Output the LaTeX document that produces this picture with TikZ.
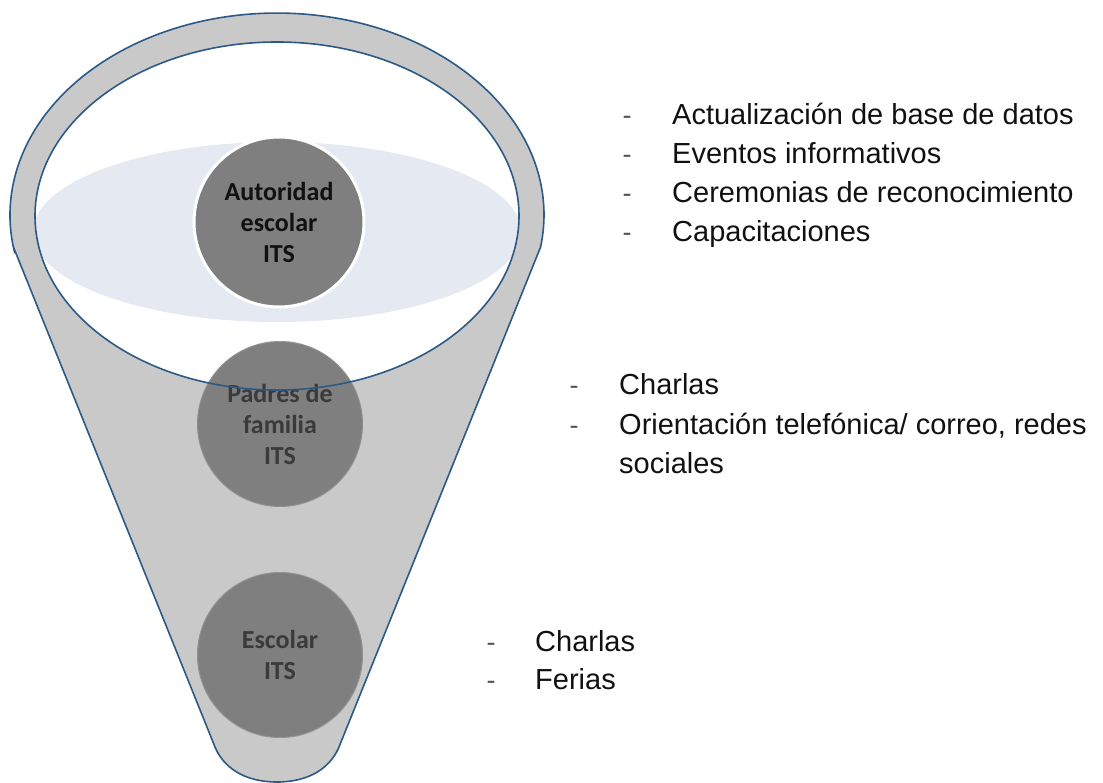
\documentclass[tikz,border=0pt]{standalone}
\usepackage{fontspec}
\setmainfont{Liberation Sans}
\newfontfamily\calfont{Carlito}
\definecolor{funnelblue}{HTML}{2C5A86}
\definecolor{funnelgray}{HTML}{C9C9C9}
\definecolor{discgray}{HTML}{7F7F7F}
\definecolor{haze}{HTML}{E4E9F2}
\definecolor{inkdark}{HTML}{111111}
\definecolor{inkgray}{HTML}{3A3A3A}
\definecolor{dashgray}{HTML}{555555}
\tikzset{
  rim/.style={draw=funnelblue, line width=1.6pt},
  disc/.style={circle, fill=discgray, inner sep=0pt, align=center,
    font=\calfont\bfseries\fontsize{26}{31}\selectfont},
  item/.style={anchor=base west, inner sep=0pt, text=inkdark,
    font=\fontsize{29}{35}\selectfont},
  bullet/.style={anchor=base, inner sep=0pt, text=dashgray,
    font=\fontsize{27}{35}\selectfont}
}
\begin{document}
\begin{tikzpicture}[x=1pt,y=-1pt]
\useasboundingbox (0,0) rectangle (1103,783);
% funnel body
\path[fill=funnelgray] (13.4,247) -- (213.4,743)
  .. controls (222,768) and (245,782) .. (277,782)
  .. controls (309,782) and (332,768) .. (340.6,743)
  -- (540.6,247) arc[start angle=9.1, end angle=-190.9, x radius=267, y radius=202] -- cycle;
% inner opening
\fill[white] (277,216) ellipse[x radius=242, y radius=174];
\begin{scope}
  \clip (277,216) ellipse[x radius=242, y radius=174];
  \fill[haze] (277,232) ellipse[x radius=244, y radius=90];
\end{scope}
% discs
\node[disc, minimum size=170, draw=white, line width=3pt, text=inkdark] (autoridad) at (279,222) {Autoridad\\escolar\\ITS};
\node[disc, minimum size=165, draw=discgray!85!white, line width=1pt, text=inkgray] (padres) at (280,424) {Padres de\\familia\\ITS};
\node[disc, minimum size=165, draw=discgray!85!white, line width=1pt, text=inkgray] (escolar) at (280,655) {Escolar\\ITS};
% outlines
\draw[rim] (277,216) ellipse[x radius=242, y radius=174];
\draw[rim] (13.4,247) -- (213.4,743)
  .. controls (222,768) and (245,782) .. (277,782)
  .. controls (309,782) and (332,768) .. (340.6,743)
  -- (540.6,247) arc[start angle=9.1, end angle=-190.9, x radius=267, y radius=202] -- cycle;
% text group 1
\node[bullet] (d1) at (627,125) {-};
\node[item] (t1) at (672,125) {Actualización de base de datos};
\node[bullet] (d2) at (627,164) {-};
\node[item] (t2) at (672,164) {Eventos informativos};
\node[bullet] (d3) at (627,203) {-};
\node[item] (t3) at (672,203) {Ceremonias de reconocimiento};
\node[bullet] (d4) at (627,242) {-};
\node[item] (t4) at (672,242) {Capacitaciones};
% text group 2
\node[bullet] (d5) at (574,395) {-};
\node[item] (t5) at (619,395) {Charlas};
\node[bullet] (d6) at (574,434) {-};
\node[item] (t6) at (619,434) {Orientación telefónica/ correo, redes};
\node[item] (t7) at (619,473) {sociales};
% text group 3
\node[bullet] (d8) at (491,651) {-};
\node[item] (t8) at (535,651) {Charlas};
\node[bullet] (d9) at (491,689) {-};
\node[item] (t9) at (535,689) {Ferias};
\end{tikzpicture}
\end{document}
